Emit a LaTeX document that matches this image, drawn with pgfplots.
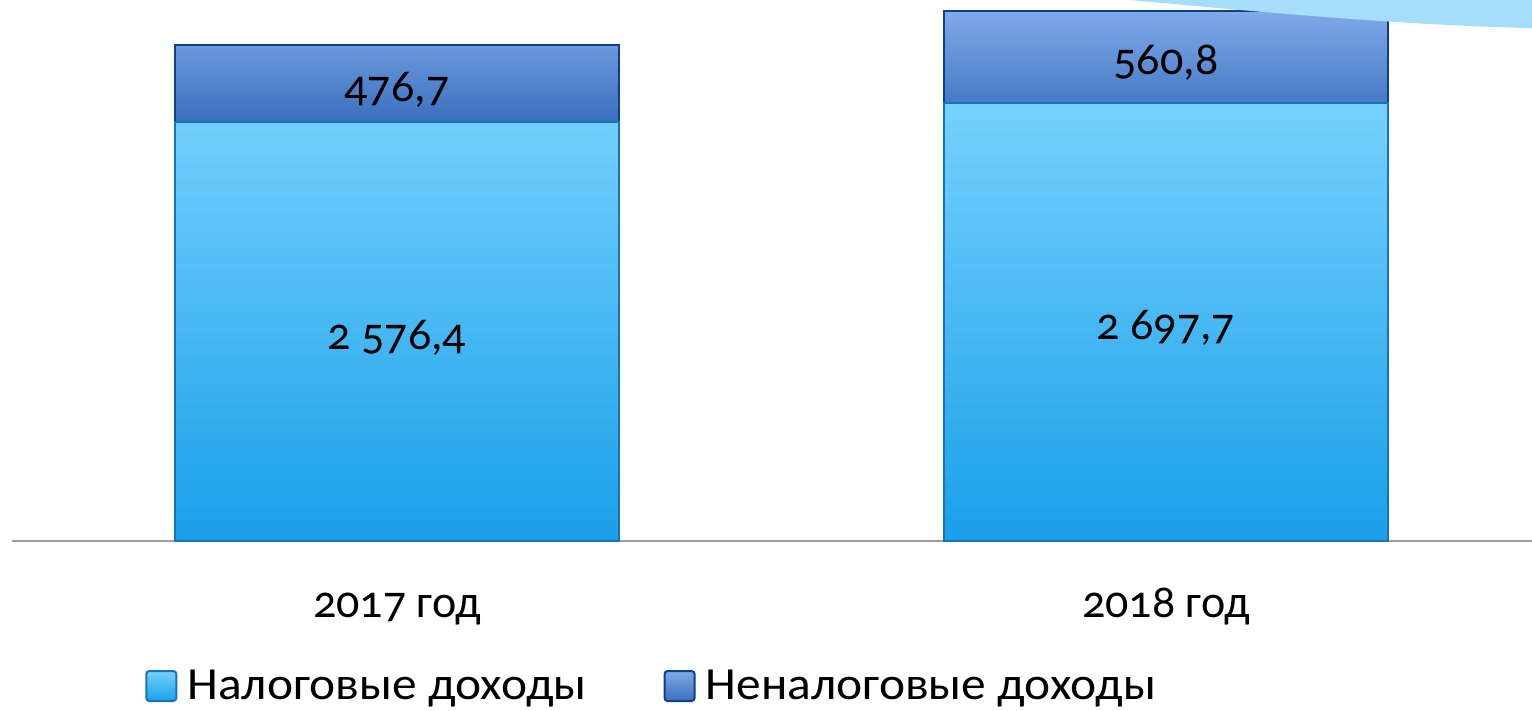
\documentclass[border=0pt]{standalone}
\usepackage{fontspec}
\setmainfont{Carlito}[Numbers=OldStyle]
\newfontfamily\legfont{Carlito}[Numbers=OldStyle, FakeStretch=1.075]
\usepackage{pgfplots}
\pgfplotsset{compat=1.18}

\definecolor{taxtop}{HTML}{76D1FD}
\definecolor{taxbot}{HTML}{19A0E9}
\definecolor{taxedge}{HTML}{1A72BA}
\definecolor{ntaxtop}{HTML}{7FAAE8}
\definecolor{ntaxbot}{HTML}{3A6FBE}
\definecolor{ntaxedge}{HTML}{0E3E8C}
\definecolor{swoosh}{HTML}{A6DDFA}

\begin{document}
\begin{tikzpicture}
\begin{axis}[
    scale only axis,
    width=760pt, height=270.5pt,
    ybar stacked,
    bar width=222pt,
    xmin=-0.5007, xmax=1.476,
    ymin=0, ymax=3329,
    axis y line=none,
    axis x line*=bottom,
    x axis line style={draw=black!38, line width=1pt, -},
    xtick={0,1},
    xticklabels={2017 год, 2018 год},
    major tick length=0pt,
    xticklabel style={anchor=base, yshift=-38pt, font=\fontsize{23}{27}\selectfont},
    nodes near coords={\pgfplotspointmeta},
    point meta=explicit symbolic,
    every node near coord/.append style={anchor=center, text=black, yshift=-3pt,
        font=\fontsize{23}{27}\selectfont},
    legend columns=2,
    legend cell align=left,
    legend style={draw=none, fill=none, at={(0.0835,-0.268)}, anchor=west,
        font=\fontsize{23}{27}\legfont,
        /tikz/every even column/.append style={column sep=36.5pt}},
    legend image code/.code={\draw[#1, line width=1pt, rounded corners=1.5pt] (0pt,-7.5pt) rectangle (15pt,7.5pt);
        \path (18pt,0pt);},
    clip=false,
]
\fill[swoosh] (rel axis cs:0.7355,1) .. controls (rel axis cs:0.8211,0.9778) and (rel axis cs:0.9132,0.9538) .. (rel axis cs:1,0.948) -- (rel axis cs:1,1) -- cycle;

\addplot+[draw=taxedge, line width=1pt, top color=taxtop, bottom color=taxbot]
    coordinates {(0,2576.4) [2~576,4] (1,2697.7) [2~697,7]};
\addplot+[draw=ntaxedge, line width=1pt, top color=ntaxtop, bottom color=ntaxbot]
    coordinates {(0,476.7) [476,7] (1,560.8) [560,8]};
\legend{Налоговые доходы, Неналоговые доходы}
\end{axis}
\pgfresetboundingbox
\path (current axis.south west) ++(-6pt,-84.5pt) rectangle (current axis.north east);
\end{tikzpicture}
\end{document}
